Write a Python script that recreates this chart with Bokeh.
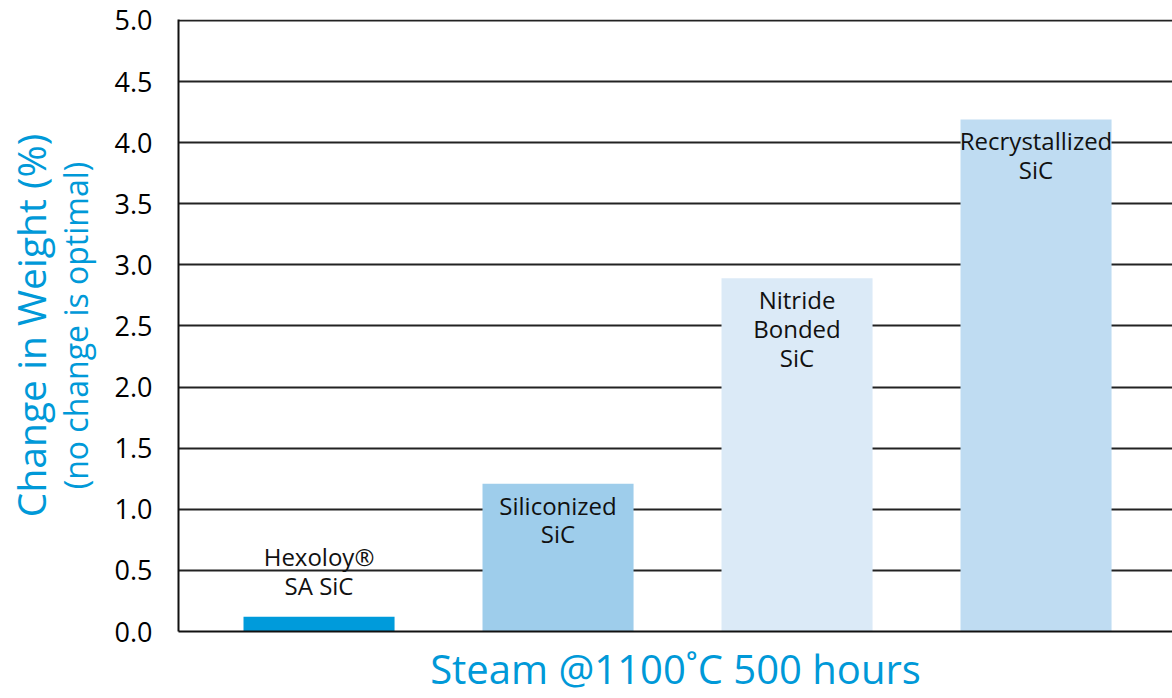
from bokeh.plotting import figure
from bokeh.models import ColumnDataSource, Range1d, LinearAxis, FixedTicker, NumeralTickFormatter
from bokeh.core.properties import value
from bokeh.embed import file_html
from bokeh.resources import INLINE

# ---- data ----
materials = ["Hexoloy®\nSA SiC", "Siliconized\nSiC", "Nitride\nBonded\nSiC", "Recrystallized\nSiC"]
weight_change = [0.12, 1.21, 2.89, 4.19]
bar_colors = ["#009BDB", "#9ECDEB", "#DBEAF7", "#BFDCF2"]
y_ticks = [0.0, 0.5, 1.0, 1.5, 2.0, 2.5, 3.0, 3.5, 4.0, 4.5, 5.0]
x_title = "Steam @1100˚C 500 hours"
y_title = "Change in Weight (%)"
y_subtitle = "(no change is optimal)"

FONT = "Open Sans"
BLUE = "#0099D8"

idx = list(range(len(materials)))
src = ColumnDataSource(dict(x=idx, top=weight_change, color=bar_colors, label=materials))
inside = [i for i, v in enumerate(weight_change) if v >= 0.5]
outside = [i for i, v in enumerate(weight_change) if v < 0.5]
src_in = ColumnDataSource(dict(x=[idx[i] for i in inside], y=[weight_change[i] for i in inside],
                               label=[materials[i] for i in inside]))
src_out = ColumnDataSource(dict(x=[idx[i] for i in outside], y=[weight_change[i] for i in outside],
                                label=[materials[i] for i in outside]))

p = figure(width=1172, height=698, output_backend="svg", toolbar_location=None,
           x_range=Range1d(-0.588, 3.571), y_range=Range1d(0, 5.008),
           min_border_left=178, min_border_right=0, min_border_top=19, min_border_bottom=67)
p.outline_line_color = None
p.background_fill_color = "white"
p.border_fill_color = "white"

p.vbar(x="x", top="top", bottom=0, width=0.632, color="color", line_color=None, source=src)

common = dict(text="label", text_align="center", text_font=value(FONT), text_font_size="24px",
              text_color="#111111", text_line_height=0.87)
p.text(x="x", y="y", source=src_in, text_baseline="top", y_offset=5, **common)
p.text(x="x", y="y", source=src_out, text_baseline="bottom", y_offset=-15, **common)

# grid
p.xgrid.grid_line_color = None
p.ygrid.ticker = FixedTicker(ticks=y_ticks)
p.ygrid.grid_line_color = "#222222"
p.ygrid.grid_line_width = 2

# y axis (tick labels + subtitle)
ya = p.yaxis[0]
ya.ticker = FixedTicker(ticks=y_ticks)
ya.formatter = NumeralTickFormatter(format="0.0")
ya.major_tick_line_color = None
ya.minor_tick_line_color = None
ya.major_tick_out = 0
ya.major_label_standoff = 26
ya.major_label_text_font = FONT
ya.major_label_text_font_size = "27px"
ya.major_label_text_color = "black"
ya.axis_line_color = "#111111"
ya.axis_line_width = 2
ya.axis_label = y_subtitle
ya.axis_label_text_font = FONT
ya.axis_label_text_font_size = "32px"
ya.axis_label_text_font_style = "normal"
ya.axis_label_text_color = BLUE
ya.axis_label_standoff = 15

outer = LinearAxis(ticker=FixedTicker(ticks=[]), axis_line_color=None,
                   major_tick_line_color=None, minor_tick_line_color=None,
                   major_tick_out=0, major_label_standoff=0,
                   major_label_text_font_size="0px",
                   axis_label=y_title, axis_label_text_font=FONT,
                   axis_label_text_font_size="39px", axis_label_text_font_style="normal",
                   axis_label_text_color=BLUE, axis_label_standoff=-6)
p.add_layout(outer, "left")

# x axis
xa = p.xaxis[0]
xa.ticker = FixedTicker(ticks=[])
xa.major_tick_line_color = None
xa.minor_tick_line_color = None
xa.major_tick_out = 0
xa.major_label_standoff = 0
xa.major_label_text_font_size = "0px"
xa.axis_line_color = "#111111"
xa.axis_line_width = 2
xa.axis_label = x_title
xa.axis_label_text_font = FONT
xa.axis_label_text_font_size = "40px"
xa.axis_label_text_font_style = "normal"
xa.axis_label_text_color = BLUE
xa.axis_label_standoff = 9

open("out.html", "w").write(file_html(p, INLINE))
